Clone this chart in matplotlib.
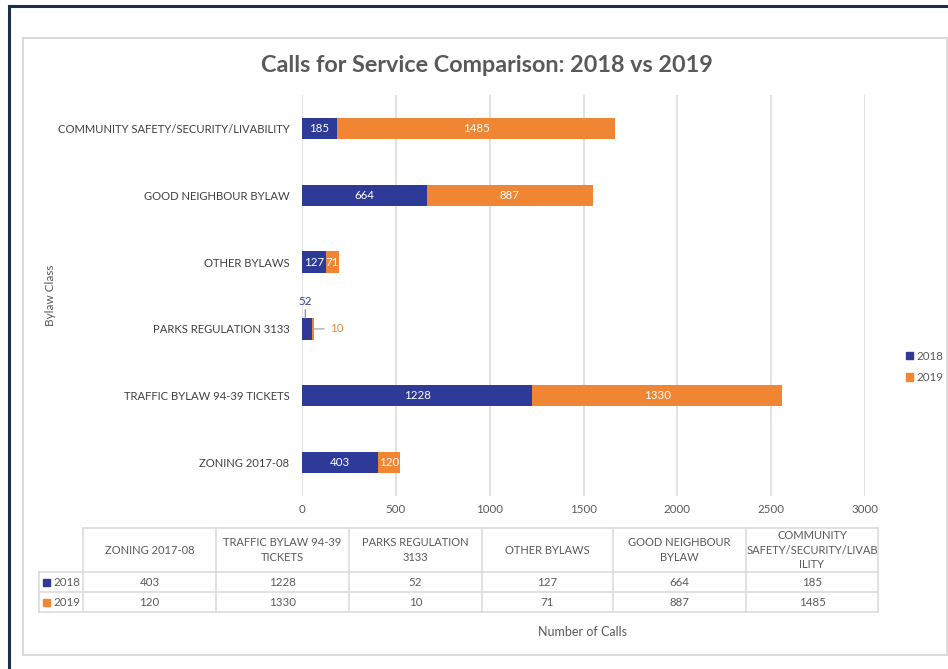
import matplotlib.pyplot as plt
from matplotlib.patches import Patch, Rectangle
from matplotlib.lines import Line2D

plt.rcParams['font.family'] = ['Lato', 'DejaVu Sans']

# data (bottom to top, same order as the data table)
categories = ['ZONING 2017-08', 'TRAFFIC BYLAW 94-39 TICKETS', 'PARKS REGULATION 3133',
              'OTHER BYLAWS', 'GOOD NEIGHBOUR BYLAW', 'COMMUNITY SAFETY/SECURITY/LIVABILITY']
table_headers = ['ZONING 2017-08', 'TRAFFIC BYLAW 94-39\nTICKETS', 'PARKS REGULATION\n3133',
                 'OTHER BYLAWS', 'GOOD NEIGHBOUR\nBYLAW', 'COMMUNITY\nSAFETY/SECURITY/LIVAB\nILITY']
calls_2018 = [403, 1228, 52, 127, 664, 185]
calls_2019 = [120, 1330, 10, 71, 887, 1485]
years = ['2018', '2019']

blue = '#2E3A97'
orange = '#F08634'
grey_txt = '#595959'
grid_c = '#D9D9D9'

W, H = 948, 669
fig = plt.figure(figsize=(W / 100, H / 100), dpi=100)


def fx(px):
    return px / W


def fy(py):
    return 1 - py / H


# frames
fig.add_artist(Line2D([fx(9), fx(9)], [fy(6), 0], color='#1F2D4D', lw=2.2))
fig.add_artist(Line2D([fx(9), 1], [fy(6), fy(6)], color='#1F2D4D', lw=2.2))
fig.add_artist(Rectangle((fx(23), fy(655)), fx(947) - fx(23), fy(38) - fy(655),
                         fill=False, ec=grid_c, lw=1.3))

ax = fig.add_axes([fx(302), fy(496), fx(865) - fx(302), fy(95) - fy(496)])
y = range(len(categories))
ax.barh(y, calls_2018, height=0.32, color=blue, label=years[0])
ax.barh(y, calls_2019, height=0.32, left=calls_2018, color=orange, label=years[1])

ax.set_xlim(0, 3000)
ax.set_ylim(-0.5, len(categories) - 0.5)
ax.set_xticks(range(0, 3001, 500))
ax.set_yticks(list(y))
ax.set_yticklabels(categories)
ax.tick_params(axis='y', length=0, pad=9, labelsize=8.1, labelcolor='#404040')
ax.tick_params(axis='x', length=0, pad=6, labelsize=8.3, labelcolor=grey_txt)
ax.grid(axis='x', color=grid_c, lw=1.1)
ax.set_axisbelow(True)
for s in ax.spines.values():
    s.set_visible(False)

# data labels
for i, (a, b) in enumerate(zip(calls_2018, calls_2019)):
    if a < 100:
        ax.annotate(str(a), xy=(a / 2 - 8, i + 0.16), xytext=(0, 17), textcoords='offset pixels',
                    ha='center', va='center', fontsize=8.3, color=blue,
                    arrowprops=dict(arrowstyle='-', color='#8C8C8C', lw=0.9, shrinkA=0, shrinkB=0))
        ax.annotate(str(b), xy=(a + b, i), xytext=(16, 0), textcoords='offset pixels',
                    ha='left', va='center', fontsize=8.3, color=orange,
                    arrowprops=dict(arrowstyle='-', color='#A6A6A6', lw=0.9, shrinkA=2, shrinkB=0))
        continue
    ax.text(a / 2, i, str(a), ha='center', va='center', fontsize=8.3, color='white')
    ax.text(a + b / 2, i, str(b), ha='center', va='center', fontsize=8.3, color='white')

fig.text(fx(487), fy(65), 'Calls for Service Comparison: 2018 vs 2019', ha='center', va='center',
         fontsize=16.8, fontweight='bold', color=grey_txt)
fig.text(fx(50), fy(295), 'Bylaw Class', rotation=90, ha='center', va='center',
         fontsize=8.5, color=grey_txt)
fig.text(fx(583), fy(632), 'Number of Calls', ha='center', va='center', fontsize=9, color=grey_txt)

# legend
handles = [Patch(color=blue), Patch(color=orange)]
fig.legend(handles, years, loc='center left', bbox_to_anchor=(fx(896), fy(367)), frameon=False,
           handlelength=0.6, handleheight=0.6, handletextpad=0.3, labelspacing=0.9,
           fontsize=8.3, labelcolor=grey_txt)

# data table
cols = [83, 216, 349, 482, 613, 746, 878]
rows = [528, 572, 592, 612]
for r in rows:
    x0 = 83 if r < 572 else 39
    fig.add_artist(Line2D([fx(x0), fx(cols[-1])], [fy(r), fy(r)], color=grid_c, lw=1.1))
for c in cols:
    fig.add_artist(Line2D([fx(c), fx(c)], [fy(rows[0]), fy(rows[-1])], color=grid_c, lw=1.1))
fig.add_artist(Line2D([fx(39), fx(39)], [fy(572), fy(612)], color=grid_c, lw=1.1))

for j, head in enumerate(table_headers):
    xc = (cols[j] + cols[j + 1]) / 2
    fig.text(fx(xc), fy((rows[0] + rows[1]) / 2), head, ha='center', va='center',
             fontsize=8, color=grey_txt, linespacing=1.35)
    for k, vals in enumerate([calls_2018, calls_2019]):
        fig.text(fx(xc), fy((rows[k + 1] + rows[k + 2]) / 2), str(vals[j]),
                 ha='center', va='center', fontsize=8.3, color=grey_txt)

for k, (yr, col) in enumerate(zip(years, [blue, orange])):
    yc = (rows[k + 1] + rows[k + 2]) / 2
    fig.add_artist(Rectangle((fx(43), fy(yc + 3.5)), fx(7), 7 / H, color=col))
    fig.text(fx(53), fy(yc), yr, ha='left', va='center', fontsize=8.3, color=grey_txt)

fig.savefig('out.png', dpi=100)
